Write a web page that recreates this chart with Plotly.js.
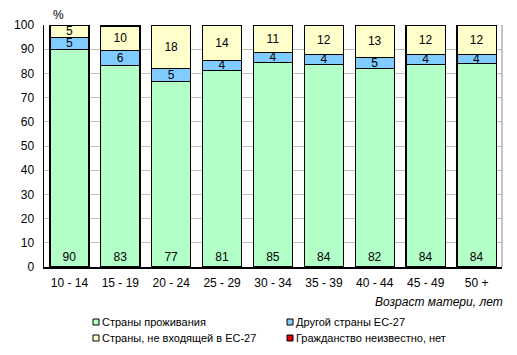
<!DOCTYPE html>
<html><head><meta charset="utf-8">
<script src="https://cdn.plot.ly/plotly-3.0.1.min.js"></script>
<style>body{margin:0;background:#fff}#c{width:517px;height:355px}</style>
</head><body><div id="c"></div>
<script>
var categories = ['10 - 14','15 - 19','20 - 24','25 - 29','30 - 34','35 - 39','40 - 44','45 - 49','50 +'];
var residence = [90.0, 83.3, 76.7, 81.3, 84.6, 83.8, 82.1, 83.8, 84.2];
var otherEU = [4.9, 6.2, 5.2, 4.1, 4.1, 4.1, 4.6, 4.1, 3.7];
var nonEU = [5.1, 10.0, 17.8, 14.6, 11.3, 12.1, 13.3, 12.1, 12.1];
var unknown = [0, 0.5, 0.3, 0, 0, 0, 0, 0, 0];
var labelsResidence = ['90','83','77','81','85','84','82','84','84'];
var labelsOtherEU = ['5','6','5','4','4','4','5','4','4'];
var labelsNonEU = ['5','10','18','14','11','12','13','12','12'];
var names = ['Страны проживания','Другой страны ЕС-27','Страны, не входящей в ЕС-27','Гражданство неизвестно, нет'];
var colors = ['#B3FFC8','#80CBFF','#FFFFCC','#E00000'];

var font = {family:'Arial, Liberation Sans, sans-serif', size:12, color:'#000'};
function bar(y, i, text, anchor){
  return {type:'bar', x:categories, y:y, name:names[i], showlegend:false,
    marker:{color:colors[i], line:{color:'#000', width:1.3}},
    text:text, textposition:text?'inside':'none', insidetextanchor:anchor||'middle',
    textangle:0, constraintext:'none', textfont:{family:font.family,size:12,color:'#000'},
    hoverinfo:'skip', cliponaxis:false};
}
var traces = [
  bar(residence,0,labelsResidence,'start'),
  bar(otherEU,1,labelsOtherEU,'middle'),
  bar(nonEU,2,labelsNonEU,'middle'),
  bar(unknown,3,null)
];

// plot area in pixels: x 44..502, y 25..267
var L=44, W=458, T=25, H=242;
function px(x){return (x-L)/W;}
function py(y){return (T+H-y)/H;}
var legendPos = [[93,322],[287,322],[93,338],[287,338]];
var shapes = [{type:'line', xref:'paper', yref:'paper', x0:1, x1:1, y0:0, y1:1, line:{color:'#888', width:1}}];
var annotations = [
  {text:'%', xref:'paper', yref:'paper', x:px(58), xanchor:'center', y:1, yanchor:'bottom', yshift:1, showarrow:false, font:{size:12}},
  {text:'<i>Возраст матери, лет</i>', xref:'paper', yref:'paper', x:px(505), xanchor:'right', y:py(302), yanchor:'middle', showarrow:false, font:{size:12}}
];
for (var i=0;i<4;i++){
  var p = legendPos[i];
  shapes.push({type:'rect', xref:'paper', yref:'paper', xsizemode:'pixel', ysizemode:'pixel',
    xanchor:px(p[0]), yanchor:py(p[1]), x0:0, x1:6, y0:-3, y1:3,
    fillcolor:colors[i], line:{color:'#000', width:1}});
  annotations.push({text:names[i], xref:'paper', yref:'paper', x:px(p[0]+9), xanchor:'left', y:py(p[1]), yanchor:'middle',
    showarrow:false, font:{size:11}, xshift:-2});
}
var layout = {
  width:517, height:355, margin:{l:44, r:15, t:25, b:88, autoexpand:false},
  paper_bgcolor:'#fff', plot_bgcolor:'#fff', font:font, showlegend:false,
  barmode:'stack', bargap:0.23,
  xaxis:{type:'category', showline:true, linecolor:'#000', linewidth:1.5, ticks:'', tickfont:{size:12},
    mirror:false, showgrid:false, fixedrange:true, automargin:false, ticklabelstandoff:4},
  yaxis:{range:[0,100], dtick:10, showline:true, linecolor:'#000', linewidth:1.5, ticks:'',
    gridcolor:'#C0C0C0', gridwidth:1, tickfont:{size:12}, zeroline:false, fixedrange:true, ticklabelstandoff:6, automargin:false},
  shapes:shapes,
  annotations:annotations
};
Plotly.newPlot('c', traces, layout, {displayModeBar:false, staticPlot:true});
</script></body></html>
